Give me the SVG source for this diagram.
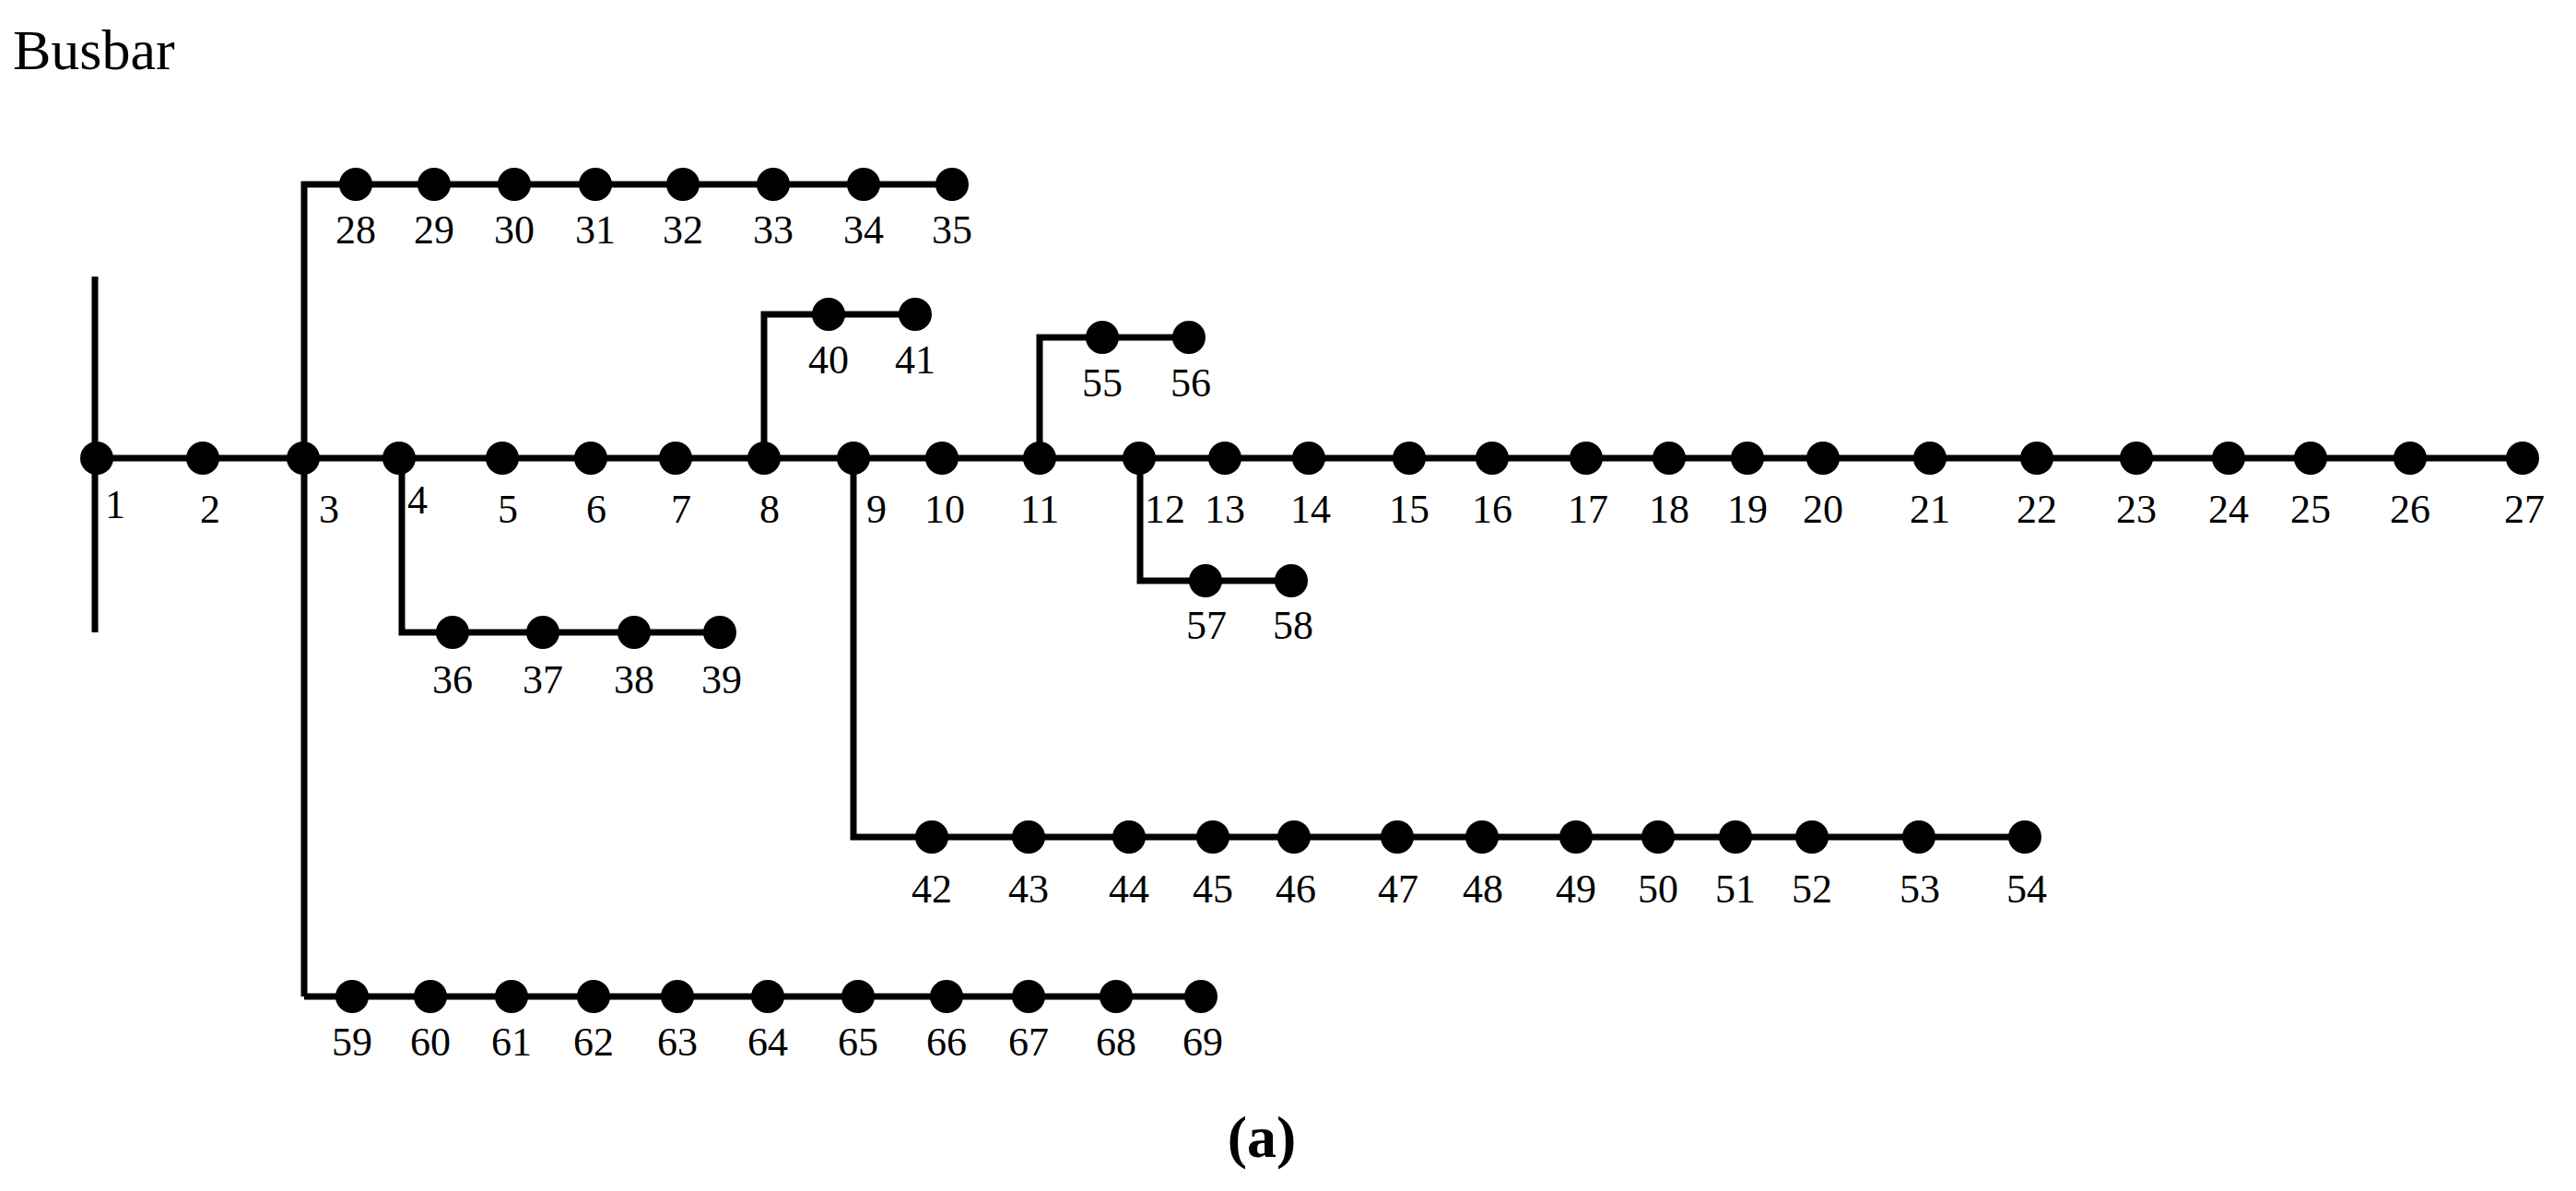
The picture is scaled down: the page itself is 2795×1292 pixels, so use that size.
<svg xmlns="http://www.w3.org/2000/svg" width="2795" height="1292" viewBox="0 0 2795 1292">
<style>
.w{stroke:#000;stroke-width:7;fill:none}
circle{fill:#000}
text{font-family:"Liberation Serif",serif;font-size:44px;fill:#000;text-anchor:middle}
</style>
<rect width="2795" height="1292" fill="#fff"/>
<g id="connectors" class="w">
<line x1="103" y1="300" x2="103" y2="686"/>
<line x1="105" y1="497" x2="2737" y2="497"/>
<polyline points="330,1081 330,200 1033,200"/>
<polyline points="436,497 436,686 781,686"/>
<polyline points="829,497 829,341 993,341"/>
<polyline points="926,497 926,908 2197,908"/>
<polyline points="1128,497 1128,366 1290,366"/>
<polyline points="1237,497 1237,630 1401,630"/>
<polyline points="330,1081 1303,1081"/>
</g>
<text x="14" y="75" style="text-anchor:start;font-size:62px">Busbar</text>
<g id="main">
<g id="n1"><circle cx="105" cy="497" r="18"/><text x="125" y="562">1</text></g>
<g id="n2"><circle cx="220" cy="497" r="18"/><text x="228" y="567">2</text></g>
<g id="n3"><circle cx="329" cy="497" r="18"/><text x="357" y="567">3</text></g>
<g id="n4"><circle cx="433" cy="497" r="18"/><text x="453" y="557">4</text></g>
<g id="n5"><circle cx="545" cy="497" r="18"/><text x="551" y="567">5</text></g>
<g id="n6"><circle cx="641" cy="497" r="18"/><text x="647" y="567">6</text></g>
<g id="n7"><circle cx="733" cy="497" r="18"/><text x="739" y="567">7</text></g>
<g id="n8"><circle cx="829" cy="497" r="18"/><text x="835" y="567">8</text></g>
<g id="n9"><circle cx="926" cy="497" r="18"/><text x="951" y="567">9</text></g>
<g id="n10"><circle cx="1022" cy="497" r="18"/><text x="1025" y="567">10</text></g>
<g id="n11"><circle cx="1128" cy="497" r="18"/><text x="1128" y="567">11</text></g>
<g id="n12"><circle cx="1236" cy="497" r="18"/><text x="1264" y="567">12</text></g>
<g id="n13"><circle cx="1329" cy="497" r="18"/><text x="1329" y="567">13</text></g>
<g id="n14"><circle cx="1420" cy="497" r="18"/><text x="1422" y="567">14</text></g>
<g id="n15"><circle cx="1529" cy="497" r="18"/><text x="1529" y="567">15</text></g>
<g id="n16"><circle cx="1619" cy="497" r="18"/><text x="1619" y="567">16</text></g>
<g id="n17"><circle cx="1721" cy="497" r="18"/><text x="1723" y="567">17</text></g>
<g id="n18"><circle cx="1811" cy="497" r="18"/><text x="1811" y="567">18</text></g>
<g id="n19"><circle cx="1896" cy="497" r="18"/><text x="1896" y="567">19</text></g>
<g id="n20"><circle cx="1978" cy="497" r="18"/><text x="1978" y="567">20</text></g>
<g id="n21"><circle cx="2094" cy="497" r="18"/><text x="2094" y="567">21</text></g>
<g id="n22"><circle cx="2210" cy="497" r="18"/><text x="2210" y="567">22</text></g>
<g id="n23"><circle cx="2318" cy="497" r="18"/><text x="2318" y="567">23</text></g>
<g id="n24"><circle cx="2418" cy="497" r="18"/><text x="2418" y="567">24</text></g>
<g id="n25"><circle cx="2507" cy="497" r="18"/><text x="2507" y="567">25</text></g>
<g id="n26"><circle cx="2615" cy="497" r="18"/><text x="2615" y="567">26</text></g>
<g id="n27"><circle cx="2737" cy="497" r="18"/><text x="2739" y="567">27</text></g>
</g>
<g id="b28">
<g id="n28"><circle cx="386" cy="200" r="18"/><text x="386" y="264">28</text></g>
<g id="n29"><circle cx="471" cy="200" r="18"/><text x="471" y="264">29</text></g>
<g id="n30"><circle cx="558" cy="200" r="18"/><text x="558" y="264">30</text></g>
<g id="n31"><circle cx="646" cy="200" r="18"/><text x="646" y="264">31</text></g>
<g id="n32"><circle cx="741" cy="200" r="18"/><text x="741" y="264">32</text></g>
<g id="n33"><circle cx="839" cy="200" r="18"/><text x="839" y="264">33</text></g>
<g id="n34"><circle cx="937" cy="200" r="18"/><text x="937" y="264">34</text></g>
<g id="n35"><circle cx="1033" cy="200" r="18"/><text x="1033" y="264">35</text></g>
</g>
<g id="b36">
<g id="n36"><circle cx="491" cy="686" r="18"/><text x="491" y="752">36</text></g>
<g id="n37"><circle cx="589" cy="686" r="18"/><text x="589" y="752">37</text></g>
<g id="n38"><circle cx="688" cy="686" r="18"/><text x="688" y="752">38</text></g>
<g id="n39"><circle cx="781" cy="686" r="18"/><text x="783" y="752">39</text></g>
</g>
<g id="b40">
<g id="n40"><circle cx="899" cy="341" r="18"/><text x="899" y="405">40</text></g>
<g id="n41"><circle cx="993" cy="341" r="18"/><text x="993" y="405">41</text></g>
</g>
<g id="b55">
<g id="n55"><circle cx="1196" cy="366" r="18"/><text x="1196" y="430">55</text></g>
<g id="n56"><circle cx="1290" cy="366" r="18"/><text x="1292" y="430">56</text></g>
</g>
<g id="b57">
<g id="n57"><circle cx="1308" cy="630" r="18"/><text x="1309" y="693">57</text></g>
<g id="n58"><circle cx="1401" cy="630" r="18"/><text x="1403" y="693">58</text></g>
</g>
<g id="b42">
<g id="n42"><circle cx="1011" cy="908" r="18"/><text x="1011" y="979">42</text></g>
<g id="n43"><circle cx="1116" cy="908" r="18"/><text x="1116" y="979">43</text></g>
<g id="n44"><circle cx="1225" cy="908" r="18"/><text x="1225" y="979">44</text></g>
<g id="n45"><circle cx="1316" cy="908" r="18"/><text x="1316" y="979">45</text></g>
<g id="n46"><circle cx="1404" cy="908" r="18"/><text x="1406" y="979">46</text></g>
<g id="n47"><circle cx="1516" cy="908" r="18"/><text x="1517" y="979">47</text></g>
<g id="n48"><circle cx="1608" cy="908" r="18"/><text x="1609" y="979">48</text></g>
<g id="n49"><circle cx="1710" cy="908" r="18"/><text x="1710" y="979">49</text></g>
<g id="n50"><circle cx="1799" cy="908" r="18"/><text x="1799" y="979">50</text></g>
<g id="n51"><circle cx="1883" cy="908" r="18"/><text x="1883" y="979">51</text></g>
<g id="n52"><circle cx="1966" cy="908" r="18"/><text x="1966" y="979">52</text></g>
<g id="n53"><circle cx="2082" cy="908" r="18"/><text x="2083" y="979">53</text></g>
<g id="n54"><circle cx="2197" cy="908" r="18"/><text x="2199" y="979">54</text></g>
</g>
<g id="b59">
<g id="n59"><circle cx="382" cy="1081" r="18"/><text x="382" y="1145">59</text></g>
<g id="n60"><circle cx="467" cy="1081" r="18"/><text x="467" y="1145">60</text></g>
<g id="n61"><circle cx="555" cy="1081" r="18"/><text x="555" y="1145">61</text></g>
<g id="n62"><circle cx="644" cy="1081" r="18"/><text x="644" y="1145">62</text></g>
<g id="n63"><circle cx="735" cy="1081" r="18"/><text x="735" y="1145">63</text></g>
<g id="n64"><circle cx="833" cy="1081" r="18"/><text x="833" y="1145">64</text></g>
<g id="n65"><circle cx="931" cy="1081" r="18"/><text x="931" y="1145">65</text></g>
<g id="n66"><circle cx="1027" cy="1081" r="18"/><text x="1027" y="1145">66</text></g>
<g id="n67"><circle cx="1116" cy="1081" r="18"/><text x="1116" y="1145">67</text></g>
<g id="n68"><circle cx="1211" cy="1081" r="18"/><text x="1211" y="1145">68</text></g>
<g id="n69"><circle cx="1303" cy="1081" r="18"/><text x="1305" y="1145">69</text></g>
</g>
<text x="1369" y="1255" style="font-size:64px;font-weight:bold">(a)</text>
</svg>
